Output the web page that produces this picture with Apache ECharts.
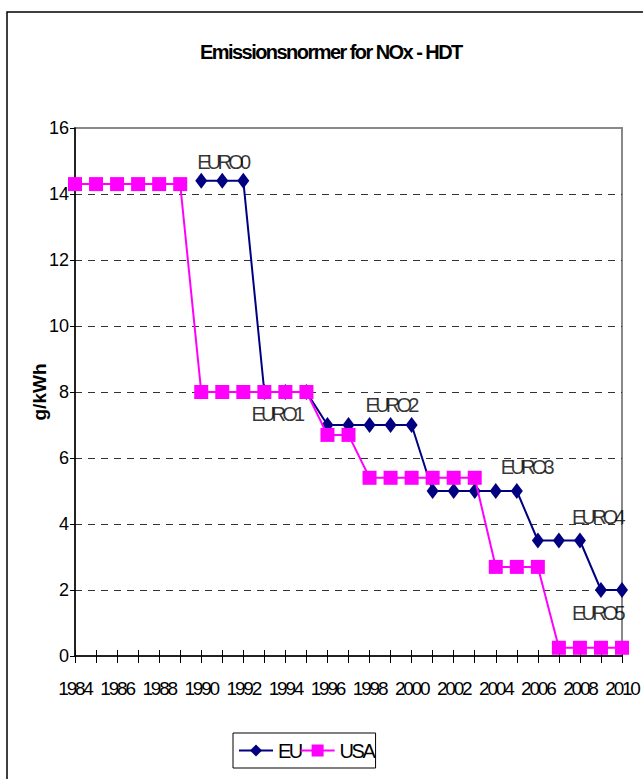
<!DOCTYPE html>
<html>
<head>
<meta charset="utf-8">
<script src="https://cdn.jsdelivr.net/npm/echarts@6/dist/echarts.min.js"></script>
<style>
html,body{margin:0;padding:0;background:#fff;}
#chart{width:643px;height:779px;}
/* Excel-like squeezed text */
#chart text[style*="cndTitle"]{letter-spacing:-1.55px;}
#chart text[style*="cndEuro"]{letter-spacing:-3.8px;}
#chart text[style*="cndX"]{letter-spacing:-2.2px;font-size:19px !important;}
#chart text[style*="cndLeg"]{letter-spacing:-2.5px;font-size:20px !important;}
</style>
</head>
<body>
<div id="chart"></div>
<script>
const years = ['1984','1985','1986','1987','1988','1989','1990','1991','1992','1993','1994','1995','1996','1997','1998','1999','2000','2001','2002','2003','2004','2005','2006','2007','2008','2009','2010'];
const euValues = [null,null,null,null,null,null,14.4,14.4,14.4,8,8,8,7,7,7,7,7,5,5,5,5,5,3.5,3.5,3.5,2,2];
const usaValues = [14.3,14.3,14.3,14.3,14.3,14.3,8,8,8,8,8,8,6.7,6.7,5.4,5.4,5.4,5.4,5.4,5.4,2.7,2.7,2.7,0.25,0.25,0.25,0.25];
const euroLabels = [
  {year:'1991', text:'EURO0'},
  {year:'1993', text:'EURO1'},
  {year:'1999', text:'EURO2'},
  {year:'2005', text:'EURO3'},
  {year:'2008', text:'EURO4'},
  {year:'2009', text:'EURO5'}
];
const yTicks = {min:0, max:16, interval:2};

// label placement (style only)
const labelOffsets = {
  EURO0:[0,-19], EURO1:[12,22], EURO2:[0,-20], EURO3:[9,-24], EURO4:[17,-24], EURO5:[-4,23]
};
const F = "'Liberation Sans',Arial,sans-serif";

// labels anchored on the EU points
const labelData = euroLabels.map(l => ({
  value: [l.year, euValues[years.indexOf(l.year)]],
  label: {
    show: true, position: 'inside', formatter: l.text,
    offset: labelOffsets[l.text],
    fontFamily: 'cndEuro,' + F, fontSize: 20, color: '#000'
  }
}));

const legText = {fontFamily: 'cndLeg,' + F, fontSize: 17, color: '#000'};

const chart = echarts.init(document.getElementById('chart'), null, {renderer: 'svg'});
chart.setOption({
  backgroundColor: '#fff',
  animation: false,
  title: {
    text: 'Emissionsnormer for NOx - HDT',
    left: 195, top: 37,
    textStyle: {fontFamily: 'cndTitle,' + F, fontWeight: 'bold', fontSize: 20, color: '#000'}
  },
  graphic: [{
    type: 'rect', z: -1,
    shape: {x: 7, y: 12, width: 720, height: 820},
    style: {fill: 'none', stroke: '#000', lineWidth: 1.5}
  }],
  grid: {
    left: 75, right: 21, top: 128, bottom: 123,
    show: true, borderColor: '#888', borderWidth: 2, backgroundColor: 'transparent'
  },
  legend: {
    left: 233, top: 733,
    padding: [9, 1, 9, 5],
    itemGap: -2, itemWidth: 34, itemHeight: 15,
    borderColor: '#000', borderWidth: 1,
    textStyle: legText,
    data: [
      {name: 'EU', textStyle: legText},
      {name: 'USA', textStyle: legText}
    ]
  },
  xAxis: [{
    type: 'category', data: years, boundaryGap: false,
    axisLine: {lineStyle: {color: '#000', width: 1.5}},
    axisTick: {show: true, interval: 0, length: 7, lineStyle: {color: '#000'}},
    axisLabel: {interval: 1, margin: 24, showMinLabel: true, showMaxLabel: true, hideOverlap: false,
      fontFamily: 'cndX,' + F, fontSize: 16, color: '#000'},
    splitLine: {show: false}
  }, {
    type: 'category', data: years, boundaryGap: false, position: 'bottom',
    axisLine: {show: false},
    axisTick: {show: true, inside: true, interval: 0, length: 6, lineStyle: {color: '#000'}},
    axisLabel: {show: false},
    splitLine: {show: false}
  }],
  yAxis: {
    type: 'value', min: yTicks.min, max: yTicks.max, interval: yTicks.interval,
    name: 'g/kWh', nameLocation: 'middle', nameGap: 26, nameRotate: 90, nameMoveOverlap: false,
    nameTextStyle: {fontFamily: F, fontWeight: 'bold', fontSize: 19, color: '#000'},
    axisLine: {show: true, lineStyle: {color: '#000', width: 1.5}},
    axisTick: {show: true, length: 5, lineStyle: {color: '#000'}},
    axisLabel: {margin: 6, fontFamily: F, fontSize: 18, color: '#000'},
    splitLine: {show: true, showMinLine: false, showMaxLine: false, lineStyle: {color: '#333', type: [7, 6], width: 1}}
  },
  series: [{
    name: 'EU', type: 'line', data: euValues, xAxisIndex: 0, z: 1,
    symbol: 'diamond', symbolSize: [12, 16], showAllSymbol: true,
    itemStyle: {color: '#000080'},
    lineStyle: {color: '#000080', width: 2},
    connectNulls: false
  }, {
    name: 'USA', type: 'line', data: usaValues, xAxisIndex: 0, z: 5,
    symbol: 'rect', symbolSize: 14, showAllSymbol: true,
    itemStyle: {color: '#FF00FF'},
    lineStyle: {color: '#FF00FF', width: 2}
  }, {
    name: 'EURO labels', type: 'scatter', data: labelData, xAxisIndex: 0, z: 6,
    symbolSize: 1, itemStyle: {color: 'rgba(0,0,0,0)'},
    silent: true
  }]
});
</script>
</body>
</html>
